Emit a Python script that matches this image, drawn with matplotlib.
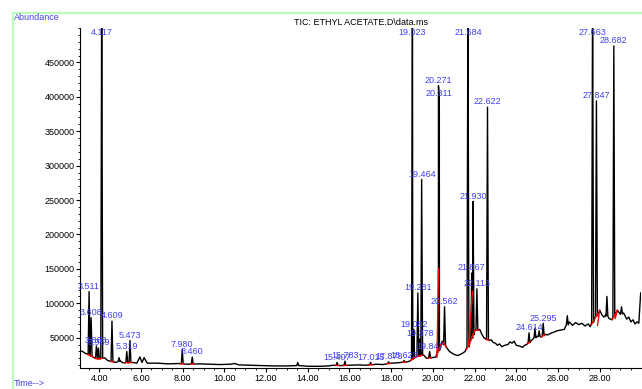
import numpy as np
import matplotlib
matplotlib.use("Agg")
import matplotlib.pyplot as plt
from matplotlib.patches import Rectangle
from matplotlib.ticker import MultipleLocator, FormatStrFormatter

plt.rcParams["font.family"] = ["Liberation Sans", "DejaVu Sans"]

# Labelled peaks: retention time (min) and apex abundance
peak_t = [3.511, 3.608, 3.863, 3.959, 4.117, 4.609, 5.319, 5.473, 7.980, 8.460,
          15.407, 15.783, 17.015, 17.878, 18.623, 19.023, 19.082, 19.281, 19.378,
          19.464, 19.847, 20.271, 20.311, 20.562, 21.684, 21.867, 21.930, 22.113,
          22.622, 24.614, 25.295, 27.663, 27.847, 28.682]
peak_h = [117000, 79000, 38000, 35000, 560000, 74000, 30000, 46000, 33000, 22000,
          14000, 16000, 14000, 15000, 17000, 560000, 62000, 115000, 48000,
          280000, 30000, 416000, 397000, 95000, 560000, 144000, 248000, 121000,
          385000, 57000, 71000, 560000, 394000, 474000]
peak_lbl = ["3.511", "3.608", "3.863", "3.959", "4.117", "4.609", "5.319", "5.473",
            "7.980", "8.460", "15.407", "15.783", "17.015", "17.878", "18.623",
            "19.023", "19.082", "19.281", "19.378", "19.464", "19.847", "20.271",
            "20.311", "20.562", "21.684", "21.867", "21.930", "22.113", "22.622",
            "24.614", "25.295", "27.663", "27.847", "28.682"]

# Small unlabelled peaks
bump_t = [4.95, 13.52, 24.9, 25.1, 26.45, 28.35, 29.05]
bump_h = [21000, 14000, 64000, 60000, 82000, 110000, 95000]

# Baseline
base_t = [3.08, 3.2, 3.35, 3.45, 3.7, 3.8, 4.0, 4.25, 4.4, 4.5, 4.8, 5.0, 5.15,
          5.6, 5.8, 5.95, 6.05, 6.15, 6.3, 6.8, 7.3, 7.8, 8.2, 8.8, 9.3, 9.8,
          10.3, 10.5, 10.7, 11.2, 11.8, 12.4, 13.0, 13.45, 13.6, 14.0, 14.6,
          15.0, 15.2, 15.6, 16.0, 16.4, 16.8, 17.3, 17.6, 18.0, 18.3, 18.8,
          18.95, 19.15, 19.55, 19.7, 19.95, 20.15, 20.45, 20.65, 20.8, 21.0,
          21.2, 21.4, 21.55, 21.75, 22.0, 22.25, 22.35, 22.45, 22.55, 22.7,
          22.8, 22.9, 23.0, 23.1, 23.2, 23.3, 23.45, 23.6, 23.7, 23.8, 23.9,
          24.0, 24.15, 24.3, 24.4, 24.5, 24.7, 24.8, 25.0, 25.2, 25.4, 25.5,
          25.7, 25.8, 25.95, 26.1, 26.3, 26.55, 26.7, 26.85, 27.0, 27.15, 27.3,
          27.45, 27.55, 28.0, 28.1, 28.2, 28.3, 28.45, 28.6, 28.85, 29.0,
          29.15, 29.3, 29.4, 29.5, 29.6, 29.7, 29.8, 29.88, 29.97]
base_y = [31000, 30000, 27000, 26000, 22000, 20000, 19000, 21000, 17000, 16000,
          14000, 16000, 13500, 14000, 13000, 22000, 14000, 21000, 13000, 13000,
          12000, 12500, 11500, 12000, 11500, 11000, 11500, 12500, 10500, 10000,
          9500, 9000, 9000, 9500, 9500, 8500, 8500, 9000, 10000, 9500, 10000,
          10500, 10000, 11500, 11000, 13000, 13500, 15000, 17000, 22000, 25000,
          20000, 21000, 22000, 45000, 36000, 30000, 26000, 24000, 27000, 30000,
          40000, 60000, 62000, 55000, 50000, 48000, 46000, 47000, 43000, 42000,
          39000, 41000, 37000, 39000, 40000, 44000, 42000, 45000, 39000, 38000,
          36000, 39000, 40000, 45000, 48000, 52000, 51000, 55000, 54000, 57000,
          58000, 60000, 61000, 62000, 73000, 68000, 72000, 69000, 71000, 67000,
          70000, 66000, 90000, 84000, 80000, 83000, 78000, 76000, 90000, 84000,
          86000, 77000, 80000, 73000, 76000, 70000, 73000, 71000, 115000]

# Integration drop lines (red)
red_t0 = [20.20, 21.72, 27.90, 28.75]
red_y0 = [22000, 40000, 68000, 78000]
red_t1 = [20.27, 21.90, 28.00, 28.85]
red_y1 = [150000, 117000, 90000, 90000]

hw = 0.045
all_t = peak_t + bump_t
all_h = peak_h + bump_h

pts = [(t, y) for t, y in zip(base_t, base_y)
       if not any(abs(t - p) < hw for p in all_t)]
for p, h in zip(all_t, all_h):
    b = np.interp(p, base_t, base_y)
    pts += [(p - hw, b), (p, h), (p + hw, b)]
pts.sort()
tr_t = [p[0] for p in pts]
tr_y = [p[1] for p in pts]

fig = plt.figure(figsize=(6.42, 3.89), dpi=100)
ax = fig.add_axes([0.1246, 0.054, 0.874, 0.874])

ax.plot(tr_t, tr_y, color="black", lw=1.0)

# red integration baselines under labelled peaks
for p in peak_t:
    b0 = np.interp(p - 0.07, base_t, base_y)
    b1 = np.interp(p + 0.07, base_t, base_y)
    ax.plot([p - 0.07, p + 0.07], [b0, b1], color="red", lw=1.0)
for t0, y0, t1, y1 in zip(red_t0, red_y0, red_t1, red_y1):
    ax.plot([t0, t1], [y0, y1], color="red", lw=1.0)

blue = "#4040f0"
for p, h, s in zip(peak_t, peak_h, peak_lbl):
    y = min(h, 486000)
    ax.annotate(s, (p, y), xytext=(0, 0.5), textcoords="offset points",
                ha="center", va="bottom", color=blue, fontsize=6.5,
                annotation_clip=False)

ax.set_xlim(3.075, 29.99)
ax.set_ylim(6000, 500000)
ax.xaxis.set_major_locator(MultipleLocator(2))
ax.xaxis.set_major_formatter(FormatStrFormatter("%.2f"))
ax.xaxis.set_minor_locator(MultipleLocator(0.5))
ax.yaxis.set_major_locator(MultipleLocator(50000))
ax.yaxis.set_minor_locator(MultipleLocator(10000))
ax.set_yticks(np.arange(50000, 460000, 50000))
ax.tick_params(labelsize=6.5, length=3, width=0.8, pad=1)
ax.tick_params(which="minor", length=1.5, width=0.6)
for s in ["top", "right"]:
    ax.spines[s].set_visible(False)

ax.set_title("TIC: ETHYL ACETATE.D\\data.ms", fontsize=6.5, pad=2)

fig.patches.append(Rectangle((13 / 642, -0.02), 1.0, 1 - 13 / 389 + 0.02,
                             transform=fig.transFigure, fill=False,
                             edgecolor="#aaffaa", lw=1.2))
fig.text(14 / 642, 1 - 18 / 389, "Abundance", color=blue, fontsize=6.5,
         va="center", ha="left")
fig.text(14 / 642, 1 - 384 / 389, "Time-->", color=blue, fontsize=6.5,
         va="center", ha="left")

fig.savefig("out.png", dpi=100)
